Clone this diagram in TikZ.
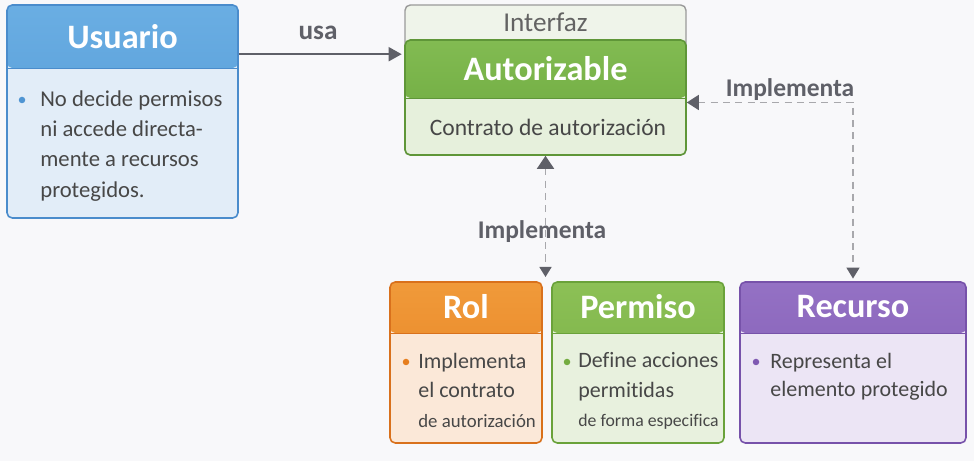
\documentclass[tikz,border=0pt]{standalone}
\usepackage{fontspec}
\setmainfont[Ligatures=NoCommon]{Carlito}
\usetikzlibrary{arrows.meta, positioning, calc}
\definecolor{Fondo}{HTML}{F8F8FA}
\definecolor{Texto}{HTML}{474747}
\definecolor{Flecha}{HTML}{5F6068}
\definecolor{GrisLinea}{HTML}{A8A8AC}
\definecolor{UsCabA}{HTML}{6AAEE3}
\definecolor{UsCabB}{HTML}{4F95D3}
\definecolor{UsBorde}{HTML}{4A8CCC}
\definecolor{UsCuerpo}{HTML}{E2EDF8}
\definecolor{AutCabA}{HTML}{82BB52}
\definecolor{AutCabB}{HTML}{6AA73C}
\definecolor{AutBorde}{HTML}{5F9638}
\definecolor{AutCuerpo}{HTML}{E6F0DC}
\definecolor{IntFondo}{HTML}{EFF4EA}
\definecolor{IntBorde}{HTML}{9A9A9A}
\definecolor{RolCabA}{HTML}{F09A3A}
\definecolor{RolCabB}{HTML}{E67E1E}
\definecolor{RolBorde}{HTML}{D9711C}
\definecolor{RolCuerpo}{HTML}{FBE8D8}
\definecolor{PerCabA}{HTML}{8CC056}
\definecolor{PerCabB}{HTML}{74AC40}
\definecolor{PerBorde}{HTML}{6AA23A}
\definecolor{PerCuerpo}{HTML}{E8F1DE}
\definecolor{RecCabA}{HTML}{9471C4}
\definecolor{RecCabB}{HTML}{7F59B2}
\definecolor{RecBorde}{HTML}{7752AA}
\definecolor{RecCuerpo}{HTML}{ECE5F5}

\begin{document}
\begin{tikzpicture}[
        tarjeta/.style n args={4}{rectangle, rounded corners=3pt, line width=0.9pt,
                    draw=#1Borde, fill=#1Cuerpo, inner sep=0pt, minimum height=#4,
                    path picture={\shade[top color=#1CabA, bottom color=#1CabB]
                        (path picture bounding box.north west) rectangle
                        ([yshift=-#3]path picture bounding box.north east);
                      \draw[#1Borde, line width=0.5pt]
                        ([yshift=-#3]path picture bounding box.north west) --
                        ([yshift=-#3]path picture bounding box.north east);},
                    minimum width=#2},
        titulo/.style={text=white, font=\fontsize{19.5}{20}\selectfont\bfseries},
        cuerpo/.style={text=Texto, align=left, inner sep=0pt, anchor=north west,
                    font=\fontsize{12.9}{17.3}\selectfont},
        punto/.style={circle, inner sep=0pt, minimum size=1.3mm},
        etiqueta/.style={text=Flecha, font=\fontsize{14.5}{16}\selectfont\bfseries},
        usa/.style={-{Triangle[length=2.6mm, width=2.8mm]}, line width=1.1pt, Flecha},
        impl/.style={line width=0.9pt, GrisLinea, dash pattern=on 4pt off 3pt},
      ]
        \path[use as bounding box, fill=Fondo] (0,0) rectangle (19.48,9.22);
        % Usuario
        \node[tarjeta={Us}{4.62cm}{1.26cm}{4.26cm}] (usuario) at (2.45,6.99) {};
        \node[titulo] at (2.45,8.48) {Usuario};
        \node[punto, fill=UsCabB] at (0.44,7.22) {};
        \node[cuerpo] (usuario-txt) at (0.80,7.42)
          {No decide permisos\\ni accede directa-\\mente a recursos\\protegidos.};
        % Interfaz / Autorizable
        \node[draw=IntBorde, fill=IntFondo, rounded corners=3pt, line width=0.8pt,
              minimum width=5.62cm, minimum height=3.0cm, inner sep=0pt] (interfaz) at (10.91,7.62) {};
        \node[text=Texto!85, font=\fontsize{15.5}{16}\selectfont] at (10.91,8.78) {Interfaz};
        \node[tarjeta={Aut}{5.62cm}{1.16cm}{2.30cm}] (autorizable) at (10.91,7.27) {};
        \node[titulo] at (10.91,7.84) {Autorizable};
        \node[text=Texto, font=\fontsize{13.4}{15}\selectfont] at (10.96,6.68) {Contrato de autorización};
        % Rol, Permiso, Recurso
        \node[tarjeta={Rol}{3.04cm}{1.02cm}{3.22cm}] (rol) at (9.32,1.97) {};
        \node[titulo] at (9.32,3.08) {Rol};
        \node[punto, fill=RolCabB] at (8.12,1.98) {};
        \node[cuerpo, font=\fontsize{12.5}{16.8}\selectfont] (rol-txt) at (8.36,2.17)
          {Implementa\\el contrato\\{\fontsize{10.7}{12}\selectfont de autorización}};
        \node[tarjeta={Per}{3.44cm}{1.02cm}{3.22cm}] (permiso) at (12.76,1.97) {};
        \node[titulo] at (12.76,3.08) {Permiso};
        \node[punto, fill=PerCabB] at (11.34,1.98) {};
        \node[cuerpo, font=\fontsize{12.5}{16.8}\selectfont] (permiso-txt) at (11.56,2.17)
          {Define acciones\\permitidas\\{\fontsize{10.1}{12}\selectfont de forma especifica}};
        \node[tarjeta={Rec}{4.52cm}{1.02cm}{3.22cm}] (recurso) at (17.06,1.97) {};
        \node[titulo] at (17.06,3.08) {Recurso};
        \node[punto, fill=RecCabB] at (15.12,1.98) {};
        \node[cuerpo, font=\fontsize{12.5}{16}\selectfont] (recurso-txt) at (15.40,2.17)
          {Representa el\\elemento protegido};
        % conectores
        \coordinate (salida) at ($(usuario.north east)+(0,-1.0)$);
        \draw[usa] (salida) -- ([xshift=-1.5pt]interfaz.west |- salida);
        \node[etiqueta, font=\fontsize{15.5}{16}\selectfont\bfseries] at (6.36,8.56) {usa};
        \coordinate (cruce) at (10.91,3.68);
        \draw[impl, {Triangle[length=2.6mm, width=3.4mm, color=Flecha]}-{Triangle[length=2mm, width=2.4mm, color=Flecha]}]
          (autorizable.south) -- (cruce);
        \node[etiqueta] at (10.84,4.58) {Implementa};
        \coordinate (lateral) at ($(autorizable.east)+(0,-0.1)$);
        \draw[impl, {Triangle[length=2.4mm, width=3mm, color=Flecha]}-{Triangle[length=2.2mm, width=2.6mm, color=Flecha]}]
          (lateral) -| ([yshift=1.5pt]recurso.north);
        \node[etiqueta] at (15.8,7.42) {Implementa};
      \end{tikzpicture}
\end{document}
